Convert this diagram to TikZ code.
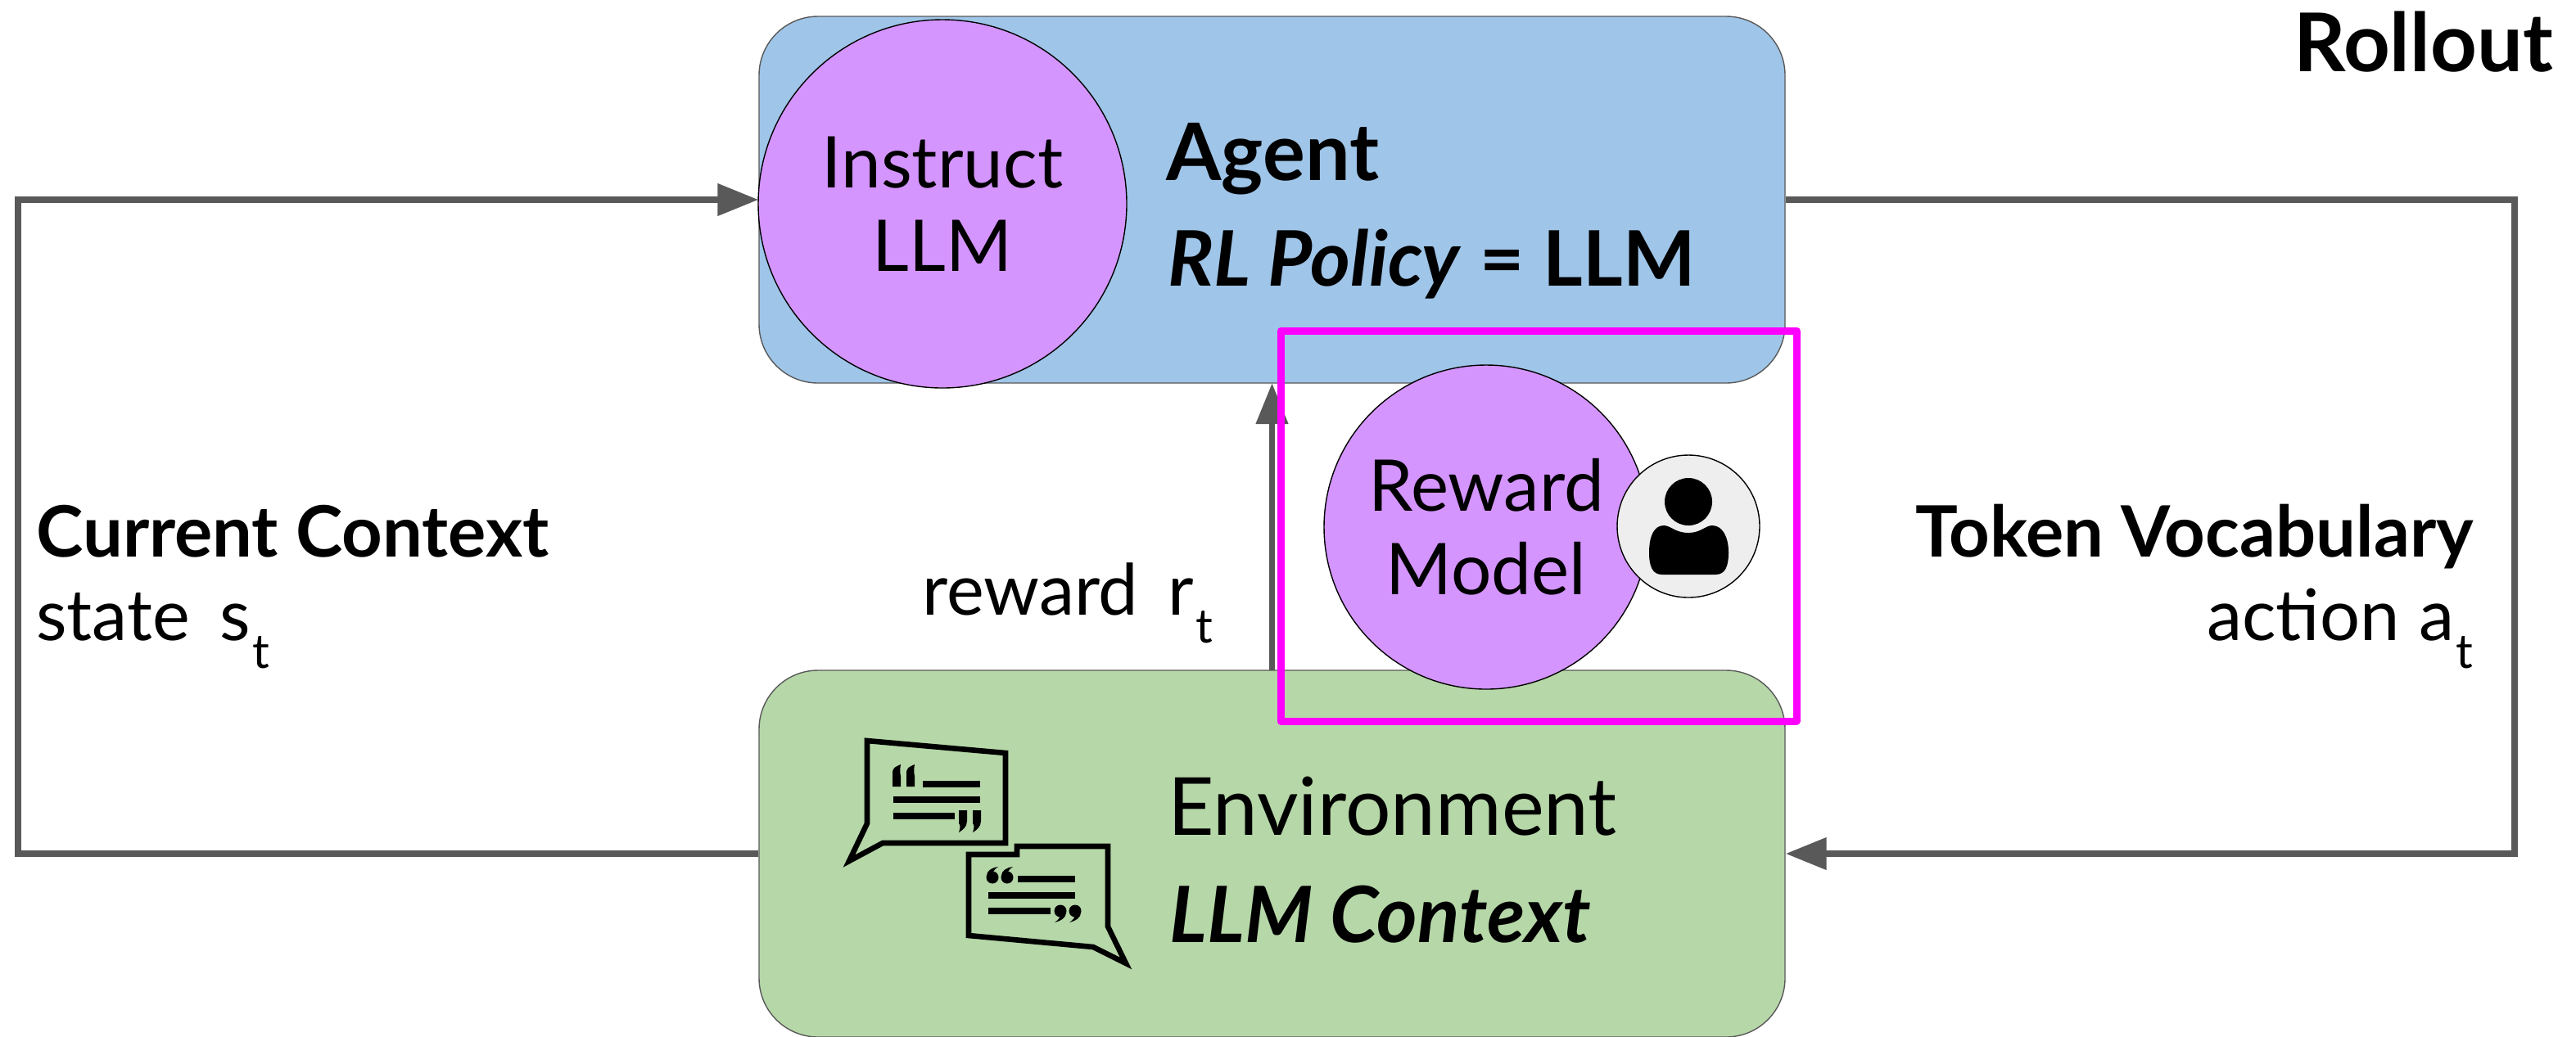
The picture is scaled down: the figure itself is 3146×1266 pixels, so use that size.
\documentclass[tikz,border=0pt]{standalone}
\usepackage{fontspec}
\setmainfont{Lato}
\usetikzlibrary{arrows.meta}
\definecolor{agentblue}{HTML}{9FC5E8}
\definecolor{envgreen}{HTML}{B6D7A8}
\definecolor{modelpurple}{HTML}{D595FF}
\definecolor{humangray}{HTML}{EEEEEE}
\definecolor{flowgray}{HTML}{595959}
\definecolor{framepink}{HTML}{FF00FF}
\newcommand{\subt}[1]{\kern1pt\raisebox{-17pt}{\fontsize{29}{29}\selectfont #1}}
\tikzset{
	roundbox/.style={draw=flowgray, line width=0.7pt, rounded corners=36pt, minimum width=626.5pt, minimum height=224pt, inner sep=0pt},
	bubble/.style={circle, draw=black, line width=0.7pt, fill=modelpurple, inner sep=0pt, align=center, font=\fontsize{43.6}{51}\selectfont},
	flow/.style={draw=flowgray, line width=3.8pt},
	flowtip/.style={flow, -{Triangle[length=25pt, width=19pt]}},
	title/.style={anchor=base west, inner sep=0pt, font=\fontsize{49}{50}\selectfont},
	side/.style={anchor=base west, inner sep=0pt, font=\fontsize{43.3}{44}\selectfont},
	icon/.style={draw=black, line width=3.3pt, miter limit=6},
	iconbar/.style={draw=black, line width=4pt}
}
\begin{document}
\begin{tikzpicture}[x=0.5pt, y=-0.5pt]
	\useasboundingbox (0,0) rectangle (3146,1266);

	\node [roundbox, fill=agentblue] (agent) at (1553.5,244) {};
	\node [roundbox, fill=envgreen] (environment) at (1553.5,1043) {};
	\coordinate (topleft) at (22,244);
	\coordinate (botleft) at (22,1043);
	\coordinate (topright) at (3071,244);
	\coordinate (botright) at (3071,1043);

	\draw [flowtip] (environment.west) -- (botleft) -- (topleft) -- (agent.west);
	\draw [flowtip] (agent.east) -- (topright) -- (botright) -- (environment.east);
	\coordinate (rewardfoot) at (1553.5,819);
	\coordinate (rewardhead) at (1553.5,468);
	\draw [flowtip] (rewardfoot) -- (rewardhead);

	\node [bubble, minimum size=225pt] (instruct) at (1151,249) {Instruct\\LLM};
	\node [bubble, minimum size=198pt] (reward) at (1815,644) {Reward\\Model};
	\node [circle, draw=black, line width=0.7pt, fill=humangray, minimum size=87pt, inner sep=0pt] (human) at (2062,643) {};

	\fill (2062,613) circle [radius=29];
	\fill (2014,675) .. controls (2014,655) and (2020,642) .. (2032,642) .. controls (2040,642) and (2046,651) .. (2062,651) .. controls (2077,651) and (2083,642) .. (2091,642) .. controls (2103,642) and (2111,655) .. (2111,675) .. controls (2111,692) and (2107,702) .. (2095,702) -- (2030,702) .. controls (2018,702) and (2014,692) .. (2014,675) -- cycle;

	\node [title, font=\fontsize{48.5}{50}\selectfont\bfseries] (agentname) at (1424,220) {Agent};
	\node [title, font=\fontsize{46.8}{50}\selectfont\bfseries] (policy) at (1426,349) {\textit{RL Policy} = LLM};
	\node [title] (envname) at (1426,1020) {Environment};
	\node [title, font=\fontsize{47.5}{50}\selectfont\bfseries\itshape] (envcontext) at (1428,1151) {LLM Context};
	\node [title, anchor=base east, font=\fontsize{49.5}{50}\selectfont\bfseries] (rollout) at (3118,87) {Rollout};

	\node [side, font=\fontsize{43.3}{44}\selectfont\bfseries] (current) at (44,680) {Current Context};
	\node [side] (state) at (44,782) {state\, s\subt{t}};
	\node [side, anchor=base east, font=\fontsize{43.3}{44}\selectfont\bfseries] (token) at (3021,680) {Token Vocabulary};
	\node [side, anchor=base east] (action) at (3021,782) {action\kern1pt\ a\subt{t}};
	\node [side] (rewardlabel) at (1126,751) {reward\, r\subt{t}};

	\draw [icon] (1059,905) -- (1228,920) -- (1228,1030) -- (1078,1030) -- (1037,1052) -- (1059,1006) -- cycle;
	\draw [icon] (1183,1143) -- (1183,1044) -- (1242,1044) -- (1242,1034) -- (1353,1034) -- (1353,1132) -- (1375,1177) -- (1335,1157) -- cycle;
	\foreach \x/\y/\w in {1127/958/1197, 1091/977/1197, 1091/997/1166}
		\draw [iconbar] (\x,\y) -- (\w,\y);
	\foreach \x/\y/\w in {1243/1074/1313, 1207/1094/1313, 1207/1113/1283}
		\draw [iconbar] (\x,\y) -- (\w,\y);
	\foreach \x in {1090,1107}
		\fill (\x,961) -- (\x,945) .. controls (\x,938) and (\x+3,937) .. (\x+10,934) .. controls (\x+9,940) and (\x+9,944) .. (\x+10,948) -- (\x+10,961) -- cycle;
	\foreach \x in {1171,1188}
		\fill (\x,990) -- (\x+10,990) -- (\x+10,1003) .. controls (\x+10,1010) and (\x+5,1014) .. (\x,1017) .. controls (\x+2,1011) and (\x+2,1008) .. (\x,1006) -- cycle;
	\foreach \x in {1212,1230}
		\fill (\x,1072) circle [radius=7.5] (\x-7,1070) .. controls (\x-7,1064) and (\x-1,1060) .. (\x+7,1059) .. controls (\x+1,1063) and (\x,1066) .. (\x+1,1069) -- cycle;
	\foreach \x in {1295,1313}
		\fill (\x,1113) circle [radius=7.5] (\x+7,1115) .. controls (\x+7,1121) and (\x+1,1125) .. (\x-7,1127) .. controls (\x-1,1123) and (\x,1120) .. (\x-1,1117) -- cycle;

	\draw [framepink, line width=4.5pt, line join=round] (1564,404) rectangle (2194,881);
\end{tikzpicture}
\end{document}
